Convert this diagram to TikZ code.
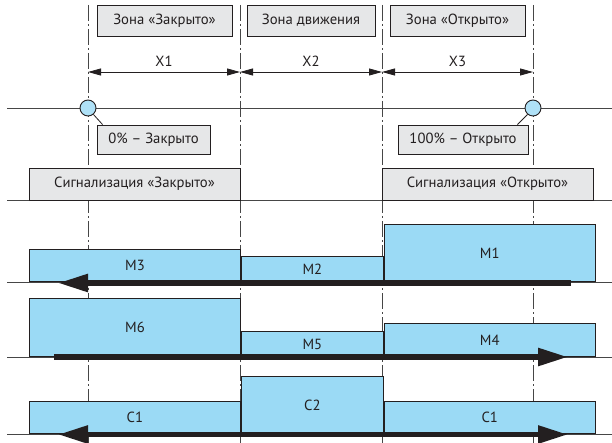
\documentclass[tikz,border=0pt]{standalone}
\usepackage{fontspec}
\setmainfont{PT Sans}
\usetikzlibrary{arrows.meta,positioning}
\definecolor{ink}{RGB}{35,31,32}
\definecolor{boxgray}{RGB}{230,231,232}
\definecolor{barblue}{RGB}{155,218,245}
\definecolor{rulegray}{RGB}{70,70,70}

\begin{document}
\begin{tikzpicture}[x=1pt,y=-1pt,font=\fontsize{14.7}{17}\selectfont,text=ink]
	\tikzset{tag/.style={draw=ink,fill=boxgray,line width=0.9pt,inner sep=0pt}}
	\tikzset{bar/.style={draw=ink,fill=barblue,line width=0.9pt,inner sep=0pt,anchor=south west}}
	\tikzset{track/.style={draw=rulegray,line width=0.8pt}}
	\tikzset{zone/.style={draw=rulegray,line width=1pt,dash pattern=on 16pt off 3pt on 2pt off 3pt}}
	\tikzset{dim/.style={draw=ink,line width=0.8pt,{Triangle[length=13pt,width=7pt]}-{Triangle[length=13pt,width=7pt]}}}
	\tikzset{move/.style={draw=ink,line width=5.5pt,-{Triangle[length=30pt,width=17pt]}}}
	\tikzset{marker/.style={circle,draw=ink,fill=barblue!80!white,line width=0.9pt,minimum size=16pt,inner sep=0pt}}

	\useasboundingbox (0,0) rectangle (612,443);

	\foreach \name/\x in {v1/88,v2/240,v3/382,v4/533} {
		\coordinate (\name t) at (\x,5);
		\coordinate (\name b) at (\x,443);
		\draw[zone] (\name t) -- (\name b);
	}
	\foreach \name/\y in {h1/108,h2/200,h3/282,h4/357,h5/434} {
		\coordinate (\name l) at (7,\y);
		\coordinate (\name r) at (612,\y);
		\draw[track] (\name l) -- (\name r);
	}

	\coordinate (d1) at (88,72);
	\coordinate (d2) at (240,72);
	\coordinate (d3) at (382,72);
	\coordinate (d4) at (533,72);
	\path
		(d1) edge[dim]	node[above=2pt]	{X1}	(d2)
		(d2) edge[dim]	node[above=2pt]	{X2}	(d3)
		(d3) edge[dim]	node[above=2pt]	{X3}	(d4)
		;

	\node[tag,minimum width=135pt,minimum height=31pt]	(zc) at (164.5,20.5)	{Зона «Закрыто»};
	\node[tag,minimum width=128pt,minimum height=31pt]	(zm) at (311,20.5)		{Зона движения};
	\node[tag,minimum width=135pt,minimum height=31pt]	(zo) at (457.5,20.5)	{Зона «Открыто»};
	\node[tag,minimum width=113pt,minimum height=29pt]	(pc) at (153.5,139.5)	{0\% – Закрыто};
	\node[tag,minimum width=130pt,minimum height=29pt]	(po) at (463,139.5)		{100\% – Открыто};
	\node[tag,minimum width=211pt,minimum height=32pt]	(sc) at (134.5,184)		{Сигнализация «Закрыто»};
	\node[tag,minimum width=211pt,minimum height=32pt]	(so) at (487.5,184)		{Сигнализация «Открыто»};

	\node[marker]	(c0) at (88,108)	{};
	\node[marker]	(c1) at (533,108)	{};
	\draw[draw=ink,line width=0.8pt] (c0.-50) -- ([xshift=6pt]pc.north west);
	\draw[draw=ink,line width=0.8pt] (c1.-130) -- ([xshift=-11pt]po.north east);

	\node[bar,minimum width=211pt,minimum height=32pt]	(m3) at (29,282)		{M3};
	\node[bar,minimum width=142pt,minimum height=25pt]	(m2) at (m3.south east)	{M2};
	\node[bar,minimum width=211pt,minimum height=57pt]	(m1) at (m2.south east)	{M1};

	\node[bar,minimum width=211pt,minimum height=58pt]	(m6) at (29,357)		{M6};
	\node[bar,minimum width=142pt,minimum height=25pt]	(m5) at (m6.south east)	{M5};
	\node[bar,minimum width=211pt,minimum height=33pt]	(m4) at (m5.south east)	{M4};

	\node[bar,minimum width=211pt,minimum height=32pt]	(s1) at (29,434)		{C1};
	\node[bar,minimum width=142pt,minimum height=57pt]	(s2) at (s1.south east)	{C2};
	\node[bar,minimum width=211pt,minimum height=32pt]	(s3) at (s2.south east)	{C1};

	\coordinate (r1a) at (571,283);
	\coordinate (r1b) at (58,283);
	\coordinate (r2a) at (54,357);
	\coordinate (r2b) at (568,357);
	\coordinate (r3a) at (58,434.5);
	\coordinate (r3b) at (568,434.5);
	\draw[move] (r1a) -- (r1b);
	\draw[move] (r2a) -- (r2b);
	\draw[move,{Triangle[length=30pt,width=17pt]}-{Triangle[length=30pt,width=17pt]}] (r3a) -- (r3b);
\end{tikzpicture}
\end{document}
